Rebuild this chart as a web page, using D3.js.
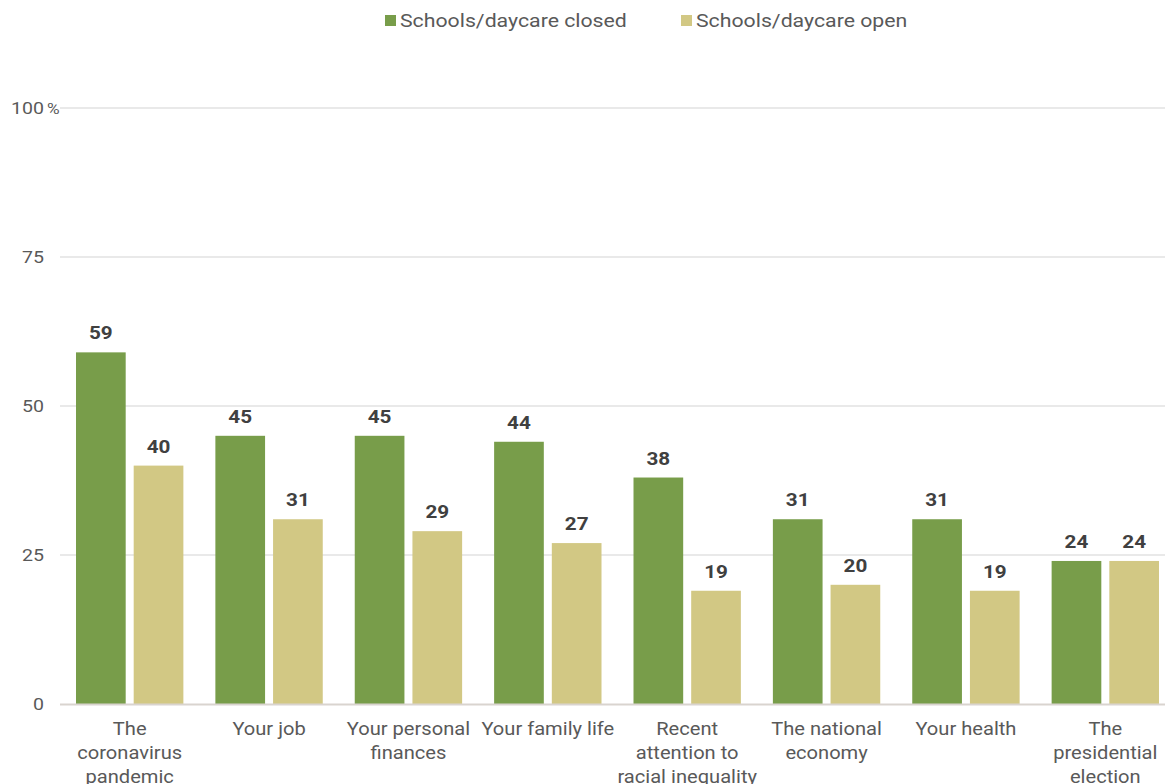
<!DOCTYPE html>
<html>
<head>
<meta charset="utf-8">
<script src="https://cdn.jsdelivr.net/npm/d3@7"></script>
<style>
  html, body { margin: 0; padding: 0; background: #fff; }
  svg { display: block; font-family: Roboto, "Liberation Sans", sans-serif; }
</style>
</head>
<body>
<svg id="chart" width="1165" height="784"></svg>
<script>
// Share of parents saying each area affects them, by school/daycare status
const categories = [
  ["The", "coronavirus", "pandemic"],
  ["Your job"],
  ["Your personal", "finances"],
  ["Your family life"],
  ["Recent", "attention to", "racial inequality"],
  ["The national", "economy"],
  ["Your health"],
  ["The", "presidential", "election"]
];
const seriesNames = ["Schools/daycare closed", "Schools/daycare open"];
const closedValues = [59, 45, 45, 44, 38, 31, 31, 24];
const openValues = [40, 31, 29, 27, 19, 20, 19, 24];
const yTicks = [0, 25, 50, 75, 100];
const colors = ["#789d4a", "#d2c884"];

const svg = d3.select("#chart");
const plot = { left: 60, right: 1175, gridRight: 1165, top: 108, bottom: 704 };
const stretch = 1.15; // wide text setting

// place a text node at (x, y) with a horizontal stretch
function placeText(sel, x, yPos) {
  return sel.attr("transform", `translate(${x},${yPos}) scale(${stretch},1)`);
}

const x0 = d3.scaleBand()
  .domain(d3.range(categories.length))
  .range([plot.left, plot.right]);

const outerPad = 16, barGap = 8;
const innerW = x0.bandwidth() - 2 * outerPad;
const x1 = d3.scaleBand()
  .domain([0, 1])
  .range([outerPad, x0.bandwidth() - outerPad])
  .paddingInner(2 * barGap / (innerW + barGap));

const y = d3.scaleLinear().domain([0, 100]).range([plot.bottom, plot.top]);

// Gridlines
svg.append("g")
  .selectAll("line")
  .data(yTicks.filter(d => d > 0))
  .join("line")
  .attr("x1", plot.left).attr("x2", plot.gridRight)
  .attr("y1", d => y(d)).attr("y2", d => y(d))
  .attr("stroke", "#d3d3d3").attr("stroke-width", 1);

// Y tick labels
const yLab = svg.append("g")
  .attr("font-size", 17)
  .attr("fill", "#595959");
yLab.selectAll("text")
  .data(yTicks)
  .join("text")
  .each(function (d) { placeText(d3.select(this), 44, y(d) + 6); })
  .attr("text-anchor", "end")
  .text(d => d);
placeText(yLab.append("text"), 47, y(100) + 6)
  .attr("font-size", 15)
  .text("%");

// Bars
const data = categories.map((c, i) => ({ i, values: [closedValues[i], openValues[i]] }));
const groups = svg.append("g")
  .selectAll("g")
  .data(data)
  .join("g")
  .attr("transform", d => `translate(${x0(d.i)},0)`);

groups.selectAll("rect")
  .data(d => d.values.map((v, k) => ({ v, k })))
  .join("rect")
  .attr("x", d => x1(d.k))
  .attr("width", x1.bandwidth())
  .attr("y", d => y(d.v))
  .attr("height", d => y(0) - y(d.v))
  .attr("fill", d => colors[d.k]);

groups.selectAll("text.val")
  .data(d => d.values.map((v, k) => ({ v, k })))
  .join("text")
  .attr("class", "val")
  .each(function (d) {
    placeText(d3.select(this), x1(d.k) + x1.bandwidth() / 2, y(d.v) - 13);
  })
  .attr("text-anchor", "middle")
  .attr("font-size", 18)
  .attr("font-weight", "bold")
  .attr("fill", "#404040")
  .text(d => d.v);

// Baseline
svg.append("line")
  .attr("x1", plot.left).attr("x2", plot.gridRight)
  .attr("y1", y(0) + 0.5).attr("y2", y(0) + 0.5)
  .attr("stroke", "#d9d4cf").attr("stroke-width", 2);

// Category labels
const catG = svg.append("g")
  .attr("font-size", 17.5)
  .attr("fill", "#595959")
  .attr("text-anchor", "middle");
categories.forEach((lines, i) => {
  const t = placeText(catG.append("text"), x0(i) + x0.bandwidth() / 2, 735);
  lines.forEach((ln, j) => {
    t.append("tspan")
      .attr("x", 0)
      .attr("dy", j === 0 ? 0 : 24)
      .text(ln);
  });
});

// Legend
const legendX = [385, 681];
const legend = svg.append("g");
seriesNames.forEach((name, k) => {
  legend.append("rect")
    .attr("x", legendX[k]).attr("y", 15)
    .attr("width", 11).attr("height", 11)
    .attr("fill", colors[k]);
  placeText(legend.append("text"), legendX[k] + 15, 27)
    .attr("font-size", 18.5)
    .attr("fill", "#595959")
    .text(name);
});
</script>
</body>
</html>
